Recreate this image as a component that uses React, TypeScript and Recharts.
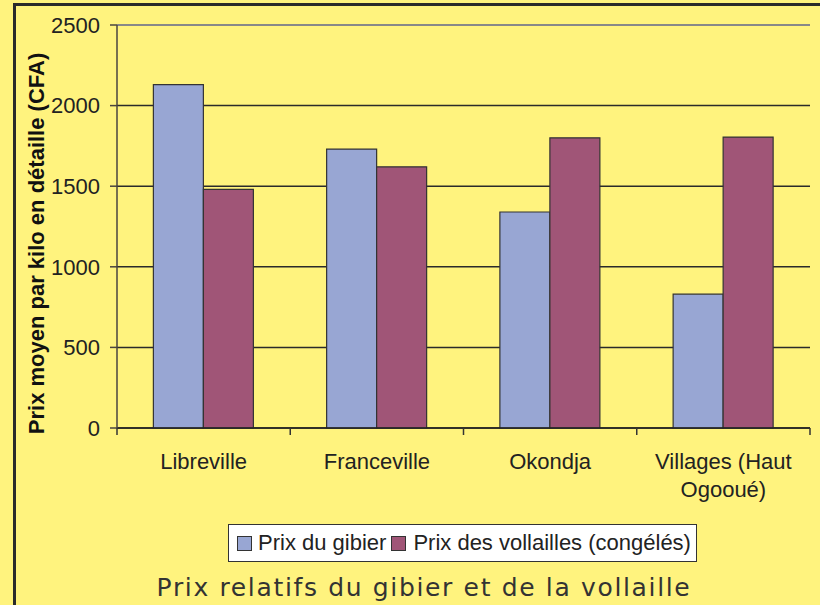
import React from "react";
import {
  BarChart,
  Bar,
  XAxis,
  YAxis,
  CartesianGrid,
  Legend,
  ReferenceLine,
} from "recharts";

const categories = ["Libreville", "Franceville", "Okondja", "Villages (Haut\nOgooué)"];
const gibierValues = [2130, 1730, 1340, 830];
const volailleValues = [1480, 1620, 1800, 1805];
const yTicks = [0, 500, 1000, 1500, 2000, 2500];
const seriesNames = ["Prix du gibier", "Prix des vollailles (congélés)"];
const yLabel = "Prix moyen par kilo en détaille (CFA)";
const title = "Prix relatifs du gibier et de la vollaille";

const data = categories.map((c, i) => ({
  name: c,
  gibier: gibierValues[i],
  volaille: volailleValues[i],
}));

const FONT = "'Liberation Sans', Arial, sans-serif";
const BG = "#FFF37E";
const BLUE = "#98A6D3";
const MAROON = "#A05577";

const XTick = (props: any) => {
  const { x, y, payload, index, visibleTicksCount } = props;
  const half = payload && typeof payload.offset === "number" && payload.offset > 0 ? payload.offset : 86.6;
  const lines = String(payload.value).split("\n");
  const isLast = index === visibleTicksCount - 1;
  return (
    <g>
      <line x1={x - half} x2={x - half} y1={y} y2={y + 7} stroke="#333" strokeWidth={1.5} />
      {isLast && <line x1={x + half} x2={x + half} y1={y} y2={y + 7} stroke="#333" strokeWidth={1.5} />}
      <text x={x} y={y} textAnchor="middle" fontFamily={FONT} fontSize={22} fill="#222">
        {lines.map((l, i) => (
          <tspan key={i} x={x} dy={i === 0 ? 41 : 28}>
            {l}
          </tspan>
        ))}
      </text>
    </g>
  );
};

const YLabel = (props: any) => {
  const vb = props.viewBox || { x: 0, y: 25, width: 117, height: 403 };
  const cx = 36;
  const cy = vb.y + vb.height / 2 + 17;
  return (
    <text
      x={cx}
      y={cy}
      transform={`rotate(-90, ${cx}, ${cy})`}
      textAnchor="middle"
      dominantBaseline="central"
      fontFamily={FONT}
      fontWeight="bold"
      fontSize={22}
      fill="#111"
    >
      {yLabel}
    </text>
  );
};

const LegendContent = () => {
  const colors = [BLUE, MAROON];
  return (
    <div
      style={{
        width: 469,
        height: 38,
        boxSizing: "border-box",
        border: "1.5px solid #333",
        background: "#fff",
        display: "flex",
        alignItems: "center",
        fontFamily: FONT,
        fontSize: 22,
        color: "#222",
        whiteSpace: "nowrap",
      }}
    >
      {seriesNames.map((n, i) => (
        <div key={n} style={{ display: "flex", alignItems: "center", marginLeft: i === 0 ? 8 : 5 }}>
          <div
            style={{
              width: 13,
              height: 13,
              background: colors[i],
              border: "1px solid #333",
              marginRight: i === 0 ? 6 : 7,
            }}
          />
          <span>{n}</span>
        </div>
      ))}
    </div>
  );
};

export default function App() {
  return (
    <div style={{ position: "absolute", left: 0, top: 0, width: 820, height: 605, background: BG, overflow: "hidden" }}>
      <div
        style={{
          position: "absolute",
          left: 13,
          top: 3,
          width: 820,
          height: 620,
          borderLeft: "3px solid #2a2a2a",
          borderTop: "3px solid #2a2a2a",
        }}
      />
      <div style={{ position: "absolute", left: 0, top: 0 }}>
        <BarChart
          width={820}
          height={605}
          data={data}
          margin={{ top: 25, right: 10, left: 0, bottom: 117 }}
          barCategoryGap="21%"
          barGap={0}
        >
          <CartesianGrid yAxisId="left" vertical={false} stroke="#2a2a2a" strokeWidth={1.5} />
          <XAxis
            dataKey="name"
            height={60}
            tickSize={0}
            tickMargin={0}
            tickLine={false}
            axisLine={{ stroke: "#222", strokeWidth: 1.5 }}
            tick={<XTick />}
            interval={0}
          />
          <YAxis
            yAxisId="left"
            width={117}
            domain={[0, 2500]}
            ticks={yTicks}
            tickSize={7}
            tickMargin={10}
            axisLine={{ stroke: "#4a4440", strokeWidth: 1.5 }}
            tickLine={{ stroke: "#4a4440", strokeWidth: 1.5 }}
            tick={{ fill: "#222", fontSize: 22, fontFamily: FONT }}
            label={<YLabel />}
          />
          <YAxis
            yAxisId="right"
            orientation="right"
            width={0}
            domain={[0, 2500]}
            tick={false}
            tickLine={false}
            axisLine={{ stroke: "#999", strokeWidth: 2 }}
          />
          <ReferenceLine yAxisId="left" y={2500} stroke="#888" strokeWidth={2} />
          <Bar
            yAxisId="left"
            dataKey="gibier"
            name={seriesNames[0]}
            fill={BLUE}
            stroke="#333"
            strokeWidth={1.2}
            isAnimationActive={false}
          />
          <Bar
            yAxisId="left"
            dataKey="volaille"
            name={seriesNames[1]}
            fill={MAROON}
            stroke="#333"
            strokeWidth={1.2}
            isAnimationActive={false}
          />
          <Legend
            layout="horizontal"
            verticalAlign="middle"
            align="center"
            content={<LegendContent />}
            wrapperStyle={{ left: 228, top: 524, width: 469, height: 38 }}
          />
        </BarChart>
      </div>
      <svg width={820} height={605} style={{ position: "absolute", left: 0, top: 0, pointerEvents: "none" }}>
        <text
          x={424}
          y={596}
          textAnchor="middle"
          fontFamily="'DejaVu Sans', Verdana, sans-serif"
          fontSize={25}
          letterSpacing={1.65}
          fill="#333"
        >
          {title}
        </text>
      </svg>
    </div>
  );
}
